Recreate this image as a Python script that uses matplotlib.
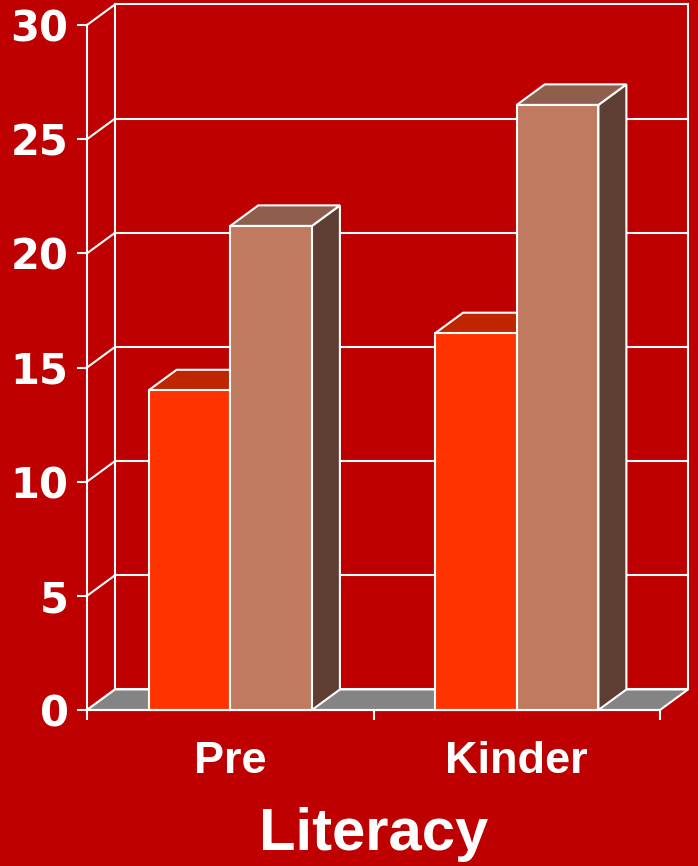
import matplotlib
matplotlib.use("Agg")
import matplotlib.pyplot as plt
from matplotlib.patches import Polygon, Rectangle
from matplotlib.ticker import FixedLocator, NullFormatter

# Data
categories = ["Pre", "Kinder"]
series_front = [14.0, 16.5]     # orange bars
series_back = [21.2, 26.5]      # tan bars
y_ticks = [0, 5, 10, 15, 20, 25, 30]
y_tick_labels = ["0", "5", "10", "15", "20", "25", "30"]
axis_title = "Literacy"

# Styling
BG = "#BE0000"
EDGE = "white"
LW = 1.5
FLOOR = "#848484"
bar_faces = [
    {"front": "#FF3300", "top": "#BF2600", "side": "#A02000"},
    {"front": "#C07A60", "top": "#8F5E4C", "side": "#5E3E32"},
]
BAR_W = 0.285          # width of one bar, in category units
DX, DY = 0.0977, 0.90  # depth offset of the 3D box (x in category units, y in data units)

fig = plt.figure(figsize=(6.98, 8.66), dpi=100, facecolor=BG)
ax = fig.add_axes([87 / 698, 1 - 710 / 866, 573 / 698, 685 / 866])
ax.set_facecolor("none")
ax.set_xlim(0, len(categories))
ax.set_ylim(y_ticks[0], y_ticks[-1])

xmax = len(categories)
ytop = y_ticks[-1]

# Back wall and side wall gridlines
for t in y_ticks:
    ax.plot([DX, xmax + DX], [t + DY, t + DY], color=EDGE, lw=LW, clip_on=False, zorder=1)
    ax.plot([0, DX], [t, t + DY], color=EDGE, lw=LW, clip_on=False, zorder=1)
ax.plot([DX, DX], [DY, ytop + DY], color=EDGE, lw=LW, clip_on=False, zorder=1)
ax.plot([xmax + DX, xmax + DX], [DY, ytop + DY], color=EDGE, lw=LW, clip_on=False, zorder=1)

# Floor
ax.add_patch(Polygon([(0, 0), (xmax, 0), (xmax + DX, DY), (DX, DY)], closed=True,
                     facecolor=FLOOR, edgecolor=EDGE, lw=LW, clip_on=False, zorder=2))

# Bars as boxes: front face, top face, right side face
z = 3
for i in range(len(categories)):
    for j, vals in enumerate([series_front, series_back]):
        v = vals[i]
        x0 = i + 0.5 - BAR_W + j * BAR_W
        x1 = x0 + BAR_W
        c = bar_faces[j]
        ax.add_patch(Polygon([(x1, 0), (x1 + DX, DY), (x1 + DX, v + DY), (x1, v)], closed=True,
                             facecolor=c["side"], edgecolor=EDGE, lw=LW, clip_on=False, zorder=z))
        ax.add_patch(Polygon([(x0, v), (x1, v), (x1 + DX, v + DY), (x0 + DX, v + DY)], closed=True,
                             facecolor=c["top"], edgecolor=EDGE, lw=LW, clip_on=False, zorder=z))
        ax.add_patch(Rectangle((x0, 0), BAR_W, v, facecolor=c["front"], edgecolor=EDGE,
                               lw=LW, clip_on=False, zorder=z + 0.5))
        z += 1

# Axes lines
for s in ["top", "right"]:
    ax.spines[s].set_visible(False)
for s in ["left", "bottom"]:
    ax.spines[s].set_color(EDGE)
    ax.spines[s].set_linewidth(LW)
    ax.spines[s].set_zorder(20)

ax.set_yticks(y_ticks)
ax.set_yticklabels(y_tick_labels)
ax.tick_params(axis="y", colors=EDGE, length=7.2, width=LW, pad=6,
               labelsize=30)
for lab in ax.get_yticklabels():
    lab.set_fontfamily("DejaVu Sans")
    lab.set_fontweight("bold")
    lab.set_color(EDGE)

ax.xaxis.set_major_locator(FixedLocator(list(range(xmax + 1))))
ax.xaxis.set_major_formatter(NullFormatter())
ax.xaxis.set_minor_locator(FixedLocator([i + 0.5 for i in range(xmax)]))
ax.set_xticklabels(categories, minor=True)
ax.tick_params(axis="x", which="major", colors=EDGE, length=7.2, width=LW)
ax.tick_params(axis="x", which="minor", length=0, pad=22, labelsize=32.5, labelcolor=EDGE)
for lab in ax.get_xticklabels(minor=True):
    lab.set_fontfamily("Liberation Sans")
    lab.set_fontweight("bold")

fig.text(374 / 698, 1 - 850 / 866, axis_title, ha="center", va="baseline",
         color=EDGE, fontsize=43, fontweight="bold", family="Liberation Sans")

fig.savefig("out.png", dpi=100, facecolor=BG)
